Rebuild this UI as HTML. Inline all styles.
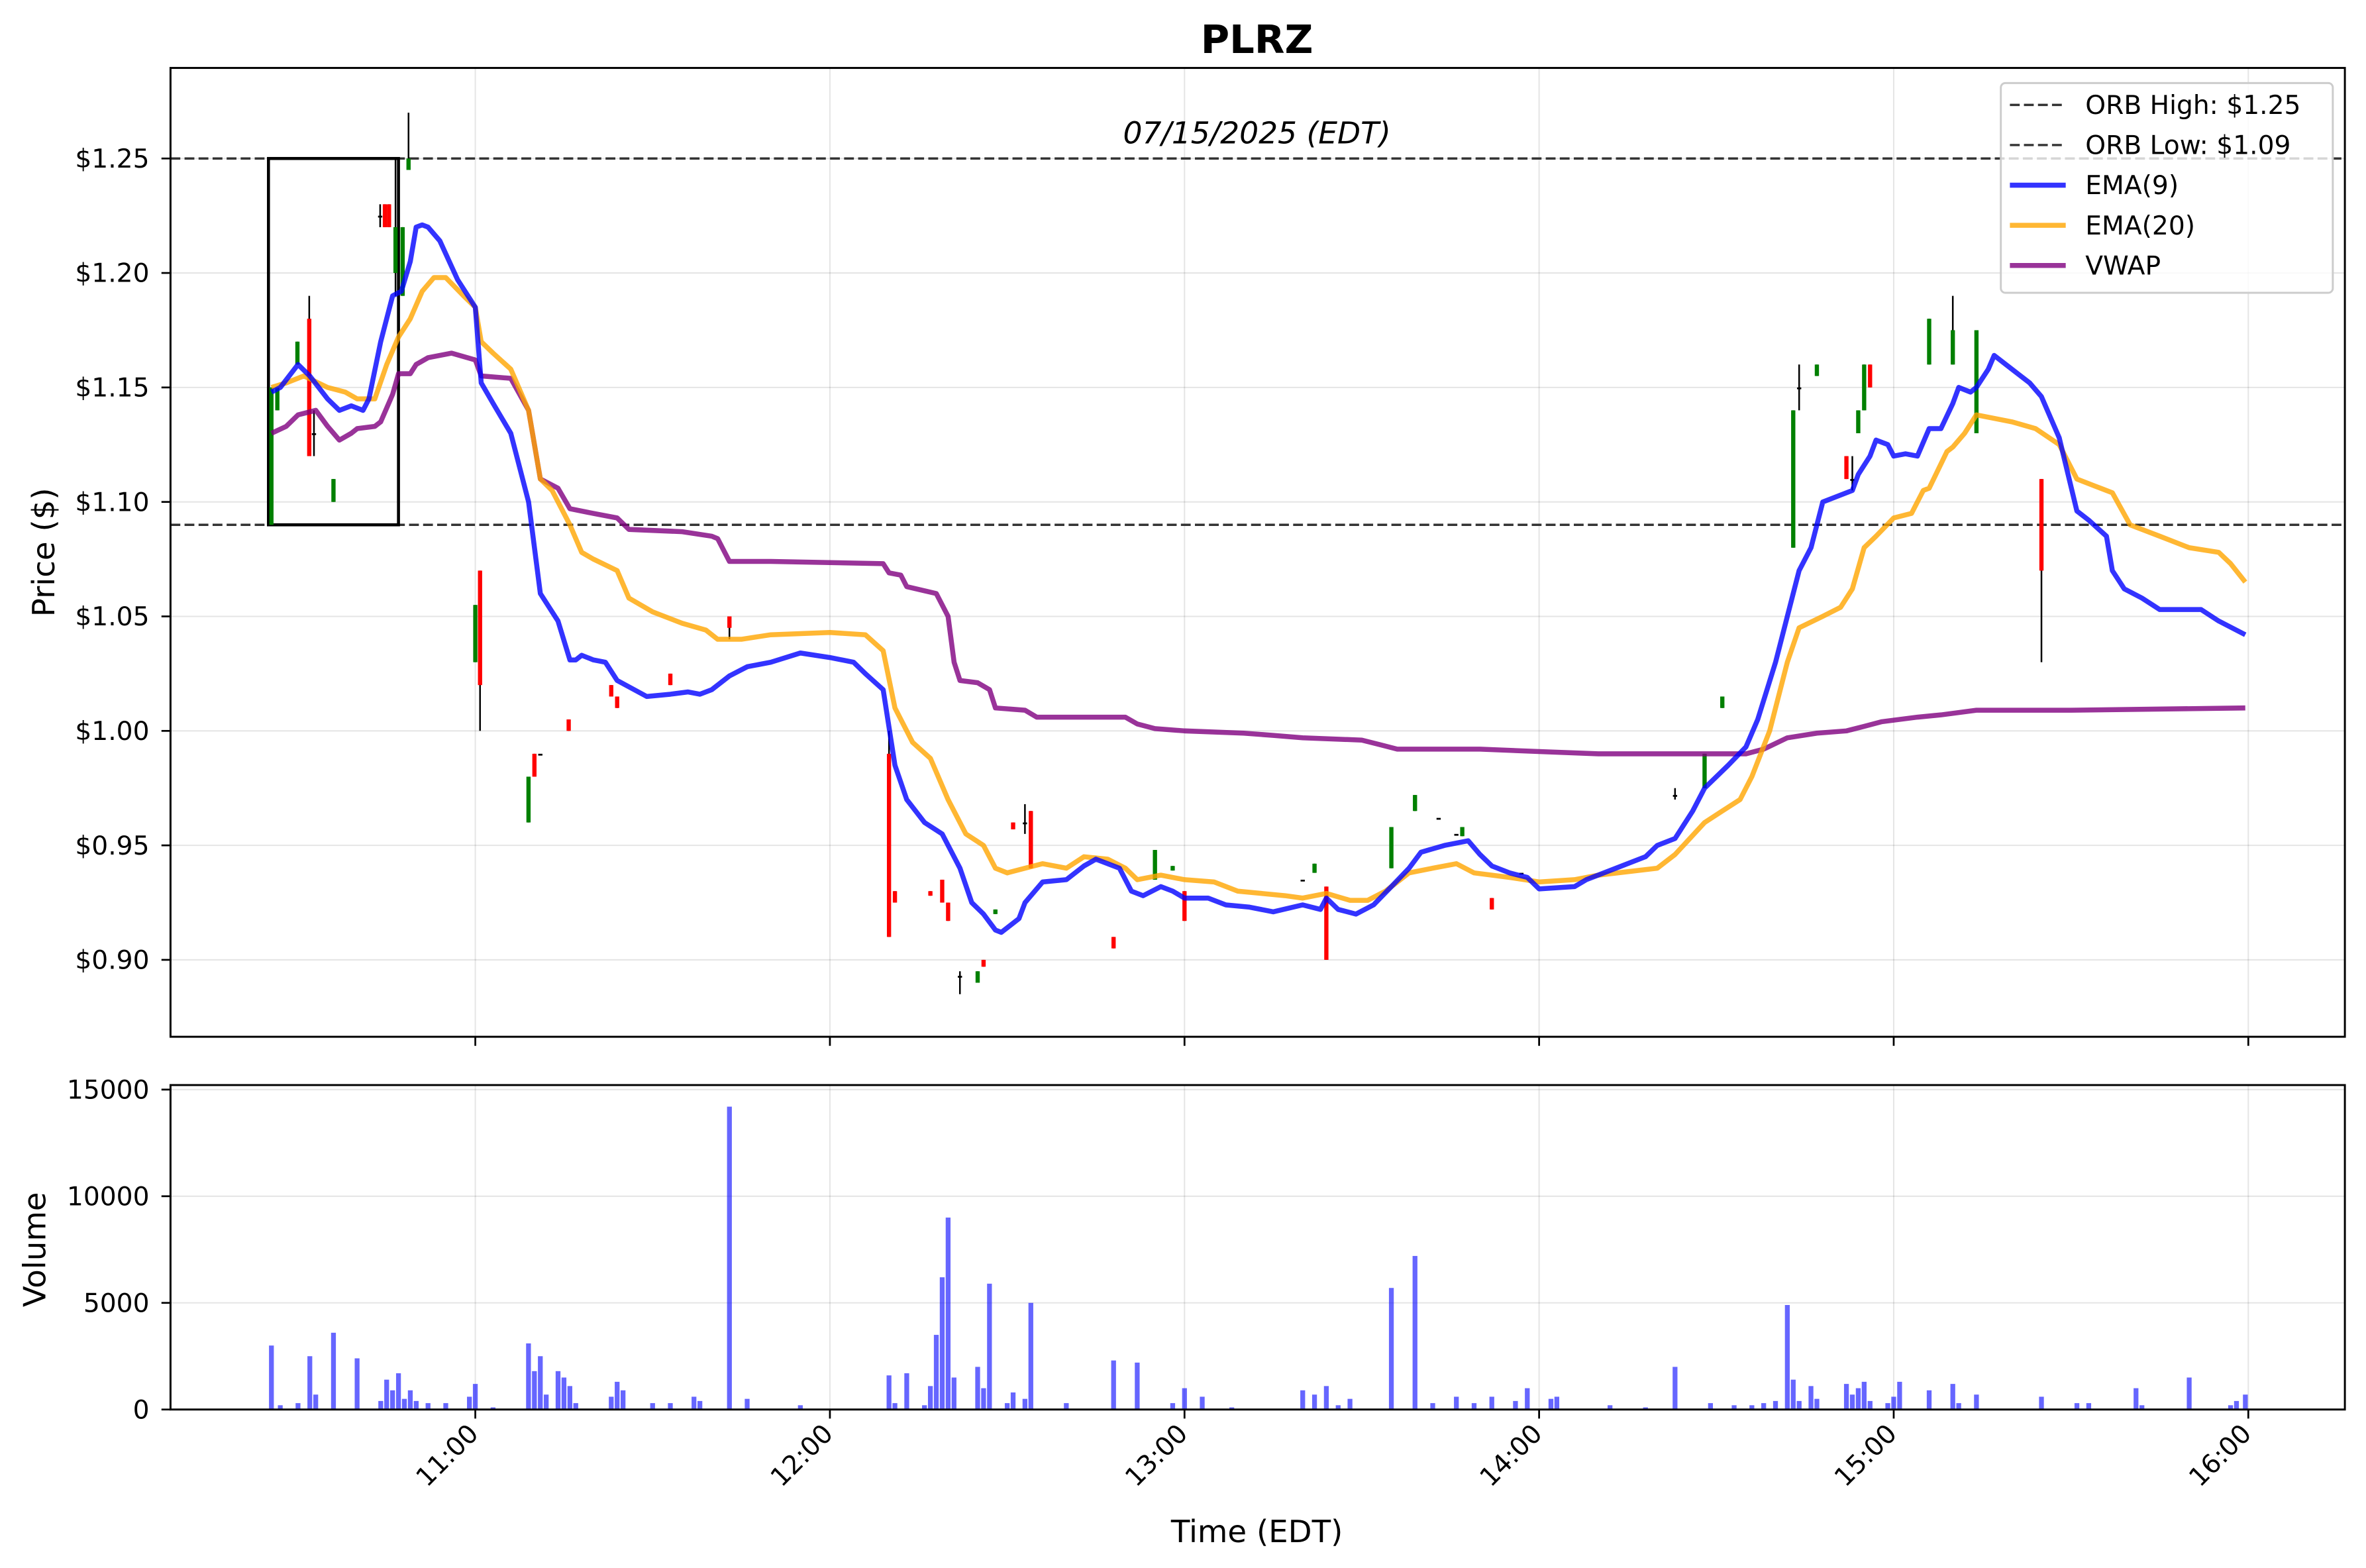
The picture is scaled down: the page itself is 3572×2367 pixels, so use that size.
<!DOCTYPE html>
<html><head><meta charset="utf-8"><style>
html,body{margin:0;padding:0;background:#fff}
svg{display:block;font-family:"DejaVu Sans","Liberation Sans",sans-serif}
</style></head><body>
<svg id="chart" width="3572" height="2367" viewBox="0 0 1568 1039" xmlns="http://www.w3.org/2000/svg">
<rect x="0" y="0" width="1568" height="1039" fill="#fff"/>
<g id="g"></g>
</svg>
<script>
// Candles: minutes after 10:00, open, close, high, low
const cT=[25.5,26.5,29.9,31.9,32.7,36,43.9,44.7,45.4,46.5,47.7,48.7,60,60.8,69,70,71,75.8,83,84,93,103,130,131,137,139,140,142,145,146,148,151,153,154,168,175,178,180,200,202,204,215,219,223,226,227,232,237,263,268,271,283,284,287,292,293,294,295,296,306,310,314,325];
const cO=[1.09,1.14,1.16,1.18,1.13,1.10,1.225,1.23,1.23,1.20,1.19,1.245,1.03,1.07,0.96,0.99,0.99,1.005,1.02,1.015,1.025,1.05,0.99,0.93,0.93,0.935,0.925,0.893,0.89,0.9,0.92,0.96,0.96,0.965,0.91,0.935,0.939,0.93,0.935,0.938,0.932,0.94,0.965,0.962,0.955,0.954,0.927,0.938,0.972,0.975,1.01,1.08,1.15,1.155,1.12,1.11,1.13,1.14,1.16,1.16,1.16,1.13,1.11];
const cC=[1.15,1.15,1.17,1.12,1.13,1.11,1.225,1.22,1.22,1.22,1.22,1.25,1.055,1.02,0.98,0.98,0.99,1.0,1.015,1.01,1.02,1.045,0.91,0.925,0.928,0.925,0.917,0.893,0.895,0.897,0.922,0.957,0.96,0.94,0.905,0.948,0.941,0.917,0.935,0.942,0.90,0.958,0.972,0.962,0.955,0.958,0.922,0.938,0.972,0.99,1.015,1.14,1.15,1.16,1.11,1.11,1.14,1.16,1.15,1.18,1.175,1.175,1.07];
const cH=[1.15,1.15,1.17,1.19,1.14,1.11,1.23,1.23,1.23,1.25,1.22,1.27,1.055,1.07,0.98,0.99,0.99,1.005,1.02,1.015,1.025,1.05,1.0,0.93,0.93,0.935,0.925,0.895,0.895,0.9,0.922,0.96,0.968,0.965,0.91,0.948,0.941,0.93,0.935,0.942,0.932,0.958,0.972,0.962,0.955,0.958,0.927,0.938,0.975,0.99,1.015,1.14,1.16,1.16,1.12,1.12,1.14,1.16,1.16,1.18,1.19,1.175,1.11];
const cL=[1.09,1.14,1.16,1.12,1.12,1.10,1.22,1.22,1.22,1.19,1.19,1.245,1.03,1.0,0.96,0.98,0.99,1.0,1.015,1.01,1.02,1.04,0.91,0.925,0.928,0.925,0.917,0.885,0.89,0.897,0.92,0.957,0.955,0.94,0.905,0.935,0.939,0.917,0.935,0.938,0.90,0.94,0.965,0.962,0.955,0.954,0.922,0.938,0.97,0.975,1.01,1.08,1.14,1.155,1.11,1.105,1.13,1.14,1.15,1.16,1.16,1.13,1.03];
const e9T=[25.5,27,30,32,35,37,39,41,42,44,46,47.5,49,50,51,52,54,57,60,61,63,66,69,71,74,76,77,78,80,82,84,89,93,96,98,100,103,106,110,115,120,124,126,129,131,133,136,139,142,144,146,148,149,152,153,156,160,163,165,169,171,173,176,178,180,184,187,191,195,200,203,204,206,209,212,215,218,220,224,228,230,232,235,238,240,246,248,258,260,263,266,268,272,275,277,280,282,284,286,288,293,294,296,297,299,300,302,304,306,308,310,311,313,314,316,317,320,323,325,328,331,333,336,337,339,342,345,350,352,355,359.5];
const e9V=[1.148,1.15,1.16,1.155,1.145,1.14,1.142,1.14,1.145,1.17,1.19,1.192,1.205,1.22,1.221,1.22,1.214,1.197,1.185,1.152,1.143,1.13,1.10,1.06,1.048,1.031,1.031,1.033,1.031,1.03,1.022,1.015,1.016,1.017,1.016,1.018,1.024,1.028,1.03,1.034,1.032,1.03,1.025,1.018,0.985,0.97,0.96,0.955,0.94,0.925,0.92,0.913,0.912,0.918,0.925,0.934,0.935,0.941,0.944,0.94,0.93,0.928,0.932,0.93,0.927,0.927,0.924,0.923,0.921,0.924,0.922,0.927,0.922,0.92,0.924,0.932,0.94,0.947,0.95,0.952,0.946,0.941,0.938,0.936,0.931,0.932,0.935,0.945,0.95,0.953,0.965,0.975,0.985,0.993,1.005,1.03,1.05,1.07,1.08,1.10,1.105,1.112,1.12,1.127,1.125,1.12,1.121,1.12,1.132,1.132,1.143,1.15,1.148,1.15,1.158,1.164,1.158,1.152,1.146,1.128,1.096,1.092,1.085,1.07,1.062,1.058,1.053,1.053,1.053,1.048,1.042];
const e20T=[25.5,28,31,35,38,40,43,45,47,49,51,53,55,58,60,61,63,66,69,71,73,76,78,80,84,86,90,95,99,101,105,110,120,126,129,131,134,137,140,143,146,148,150,153,156,160,163,167,170,172,176,180,185,189,193,197,200,204,208,211,214,218,222,226,229,235,240,246,250,260,263,268,271,274,276,279,280,282,284,288,291,293,295,297,300,303,305,306,309,310,312,314,320,324,328,331,334,337,340,345,350,355,357,359.5];
const e20V=[1.15,1.152,1.155,1.15,1.148,1.145,1.145,1.16,1.172,1.18,1.192,1.198,1.198,1.19,1.185,1.17,1.165,1.158,1.14,1.11,1.105,1.09,1.078,1.075,1.07,1.058,1.052,1.047,1.044,1.04,1.04,1.042,1.043,1.042,1.035,1.01,0.995,0.988,0.97,0.955,0.95,0.94,0.938,0.94,0.942,0.94,0.945,0.944,0.94,0.935,0.937,0.935,0.934,0.93,0.929,0.928,0.927,0.929,0.926,0.926,0.93,0.938,0.94,0.942,0.938,0.936,0.934,0.935,0.937,0.94,0.946,0.96,0.965,0.97,0.98,1.0,1.01,1.03,1.045,1.05,1.054,1.062,1.08,1.085,1.093,1.095,1.105,1.106,1.122,1.124,1.13,1.138,1.135,1.132,1.125,1.11,1.107,1.104,1.09,1.085,1.08,1.078,1.073,1.065];
const vwT=[25.5,28,30,33,35,37,39,40,43,44,46,47,49,50,52,56,60,61,66,69,71,74,76,80,84,86,95,100,101,103,110,129,130,132,133,138,140,141,142,145,147,148,153,155,170,172,175,180,190,195,200,210,213,216,230,240,250,275,278,282,287,292,295,298,304,308,314,330,359.5];
const vwV=[1.13,1.133,1.138,1.14,1.133,1.127,1.13,1.132,1.133,1.135,1.147,1.156,1.156,1.16,1.163,1.165,1.162,1.155,1.154,1.14,1.11,1.106,1.097,1.095,1.093,1.088,1.087,1.085,1.084,1.074,1.074,1.073,1.069,1.068,1.063,1.06,1.05,1.03,1.022,1.021,1.018,1.01,1.009,1.006,1.006,1.003,1.001,1.0,0.999,0.998,0.997,0.996,0.994,0.992,0.992,0.991,0.990,0.990,0.992,0.997,0.999,1.0,1.002,1.004,1.006,1.007,1.009,1.009,1.01];
const vT=[25.5,27,30,32,33,36,40,44,45,46,47,48,49,50,52,55,59,60,63,69,70,71,72,74,75,76,77,83,84,85,90,93,97,98,103,106,115,130,131,133,136,137,138,139,140,141,145,146,147,150,151,153,154,160,168,172,178,180,183,188,200,202,204,206,208,215,219,222,226,229,232,236,238,242,243,252,258,263,269,273,276,278,280,282,283,284,286,287,292,293,294,295,296,299,300,301,306,310,311,314,325,331,333,341,342,350,357,358,359.5];
const vV=[3000,200,300,2500,700,3600,2400,400,1400,900,1700,500,900,400,300,300,600,1200,100,3100,1800,2500,700,1800,1500,1100,300,600,1300,900,300,300,600,400,14200,500,200,1600,300,1700,200,1100,3500,6200,9000,1500,2000,1000,5900,300,800,500,5000,300,2300,2200,300,1000,600,100,900,700,1100,200,500,5700,7200,300,600,300,600,400,1000,500,600,200,100,2000,300,200,200,300,400,4900,1400,400,1100,500,1200,700,1000,1300,400,300,600,1300,900,1200,300,700,600,300,300,1000,200,1500,200,400,700];
const yTicks=[0.90,0.95,1.00,1.05,1.10,1.15,1.20,1.25];
const vTicks=[0,5000,10000,15000];
const xTicks=[60,120,180,240,300,360];
const xLabels=["11:00","12:00","13:00","14:00","15:00","16:00"];
const orbHigh=1.25, orbLow=1.09;

const NS="http://www.w3.org/2000/svg";
const g=document.getElementById('g');
function mk(tag,attrs,parent,txt){const e=document.createElementNS(NS,tag);for(const k in attrs)e.setAttribute(k,attrs[k]);if(txt!==undefined)e.textContent=txt;(parent||g).appendChild(e);return e;}
const L=113,R=1554,PT=45,PB=687,VT=719,VB=934;
const X=m=>315+(m-60)*235/60;
const Y=v=>105+(1.25-v)*1517.2;
const YV=v=>934-v*(212/15000);
const FS=17.2;
const DASH='6.5,2.8';

// grids
const grid=mk('g',{});

xTicks.forEach(t=>{mk('line',{x1:X(t),x2:X(t),y1:PT,y2:PB,stroke:'#000','stroke-opacity':0.1,'stroke-width':0.9},grid);mk('line',{x1:X(t),x2:X(t),y1:VT,y2:VB,stroke:'#000','stroke-opacity':0.1,'stroke-width':0.9},grid);});
yTicks.forEach(t=>mk('line',{x1:L,x2:R,y1:Y(t),y2:Y(t),stroke:'#000','stroke-opacity':0.1,'stroke-width':0.9},grid));
vTicks.forEach(t=>mk('line',{x1:L,x2:R,y1:YV(t),y2:YV(t),stroke:'#000','stroke-opacity':0.1,'stroke-width':0.9},grid));

// ORB lines
let e=mk('line',{x1:L,x2:R,y1:Y(orbHigh),y2:Y(orbHigh),stroke:'#333','stroke-width':1.5,'stroke-dasharray':DASH});

e=mk('line',{x1:L,x2:R,y1:Y(orbLow),y2:Y(orbLow),stroke:'#333','stroke-width':1.5,'stroke-dasharray':DASH});

e=mk('rect',{x:X(25),y:Y(orbHigh),width:X(47)-X(25),height:Y(orbLow)-Y(orbHigh),fill:'none',stroke:'#000','stroke-width':2});


// candles
const cg=mk('g',{});
cT.forEach((t,i)=>{const x=X(t);const col=cC[i]>cO[i]?'green':(cC[i]<cO[i]?'red':'black');
const w=mk('line',{x1:x,x2:x,y1:Y(cH[i]),y2:Y(cL[i]),stroke:'#000','stroke-width':1.1},cg);

const top=Math.min(Y(cO[i]),Y(cC[i]));const h=Math.max(1.2,Math.abs(Y(cO[i])-Y(cC[i])));
const b=mk('rect',{x:x-1.4,y:top,width:2.8,height:h,fill:col},cg);
});

function line(T,V,color,name,alpha){const d=T.map((t,i)=>(i?'L':'M')+X(t).toFixed(1)+','+Y(V[i]).toFixed(1)).join('');
const p=mk('path',{d:d,fill:'none',stroke:color,'stroke-width':3.3,'stroke-opacity':alpha,'stroke-linejoin':'round'});
}
line(vwT,vwV,'#800080','vwap-line',0.8);
line(e20T,e20V,'#ffa500','ema20-line',0.8);
line(e9T,e9V,'#0000ff','ema9-line',0.8);

// volume bars
const vg=mk('g',{});
vT.forEach((t,i)=>{const r=mk('rect',{x:X(t)-1.6,y:YV(vV[i]),width:3.2,height:YV(0)-YV(vV[i]),fill:'#0000ff','fill-opacity':0.6},vg);
});

// frames
e=mk('rect',{x:L,y:PT,width:R-L,height:PB-PT,fill:'none',stroke:'#000','stroke-width':1.3});

e=mk('rect',{x:L,y:VT,width:R-L,height:VB-VT,fill:'none',stroke:'#000','stroke-width':1.3});


// ticks
yTicks.forEach(t=>{mk('line',{x1:L-6,x2:L,y1:Y(t),y2:Y(t),stroke:'#000','stroke-width':1.2});
const tx=mk('text',{x:L-14,y:Y(t)+6,'text-anchor':'end','font-size':FS},g,'$'+t.toFixed(2));
});
vTicks.forEach(t=>{mk('line',{x1:L-6,x2:L,y1:YV(t),y2:YV(t),stroke:'#000','stroke-width':1.2});
const tx=mk('text',{x:L-14,y:YV(t)+6,'text-anchor':'end','font-size':FS},g,String(t));
});
xTicks.forEach((t,i)=>{mk('line',{x1:X(t),x2:X(t),y1:PB,y2:PB+6,stroke:'#000','stroke-width':1.2});
mk('line',{x1:X(t),x2:X(t),y1:VB,y2:VB+6,stroke:'#000','stroke-width':1.2});
const x=X(t)+3,y=VB+17;
const tx=mk('text',{x:x,y:y,'text-anchor':'end','font-size':FS,transform:`rotate(-45 ${x} ${y})`},g,xLabels[i]);
});
</script>
<script>
// static text
(function(){const s=document.getElementById('g');const NS="http://www.w3.org/2000/svg";
function t(a,txt,name){const e=document.createElementNS(NS,'text');for(const k in a)e.setAttribute(k,a[k]);e.textContent=txt;


s.appendChild(e);return e;}
t({x:833,y:35,'text-anchor':'middle','font-size':26,'font-weight':'bold'},'PLRZ','chart-title');
t({x:833,y:95,'text-anchor':'middle','font-size':20,'font-style':'italic'},'07/15/2025 (EDT)','date-label');
t({x:36,y:366,'text-anchor':'middle','font-size':20.5,transform:'rotate(-90 36 366)'},'Price ($)','y-axis-title');
t({x:30,y:828,'text-anchor':'middle','font-size':20.5,transform:'rotate(-90 30 828)'},'Volume','volume-axis-title');
t({x:833,y:1022,'text-anchor':'middle','font-size':20.5},'Time (EDT)','x-axis-title');
// legend
const lg=document.createElementNS(NS,'g');


s.appendChild(lg);
const box=document.createElementNS(NS,'rect');
[['x',1326],['y',55],['width',220],['height',139],['rx',3],['fill','#fff'],['fill-opacity',0.8],['stroke','#ccc'],['stroke-width',1.3]].forEach(p=>box.setAttribute(p[0],p[1]));
lg.appendChild(box);
const items=[['ORB High: $1.25','#333','dash'],['ORB Low: $1.09','#333','dash'],['EMA(9)','rgba(0,0,255,0.8)','solid'],['EMA(20)','rgba(255,165,0,0.8)','solid'],['VWAP','rgba(128,0,128,0.8)','solid']];
items.forEach((it,i)=>{const y=69.5+i*26.6;
const ln=document.createElementNS(NS,'line');
ln.setAttribute('x1',1332);ln.setAttribute('x2',1369);ln.setAttribute('y1',y);ln.setAttribute('y2',y);
ln.setAttribute('stroke',it[1]);ln.setAttribute('stroke-width',it[2]=='dash'?1.5:3.3);
if(it[2]=='dash')ln.setAttribute('stroke-dasharray','6.5,2.8');
lg.appendChild(ln);
const tx=document.createElementNS(NS,'text');
tx.setAttribute('x',1382);tx.setAttribute('y',y+6);tx.setAttribute('font-size',17.2);tx.textContent=it[0];


lg.appendChild(tx);});
})();
</script>
</body></html>
